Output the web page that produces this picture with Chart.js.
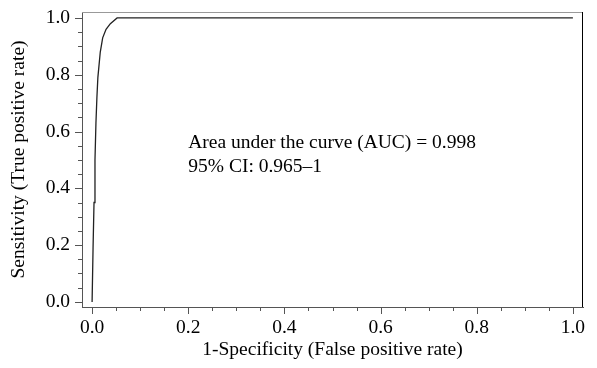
<!DOCTYPE html>
<html>
<head>
<meta charset="utf-8">
<script src="https://cdn.jsdelivr.net/npm/chart.js@4/dist/chart.umd.min.js"></script>
<style>
  html, body { margin: 0; padding: 0; background: #fff; }
  #wrap { width: 597px; height: 368px; }
</style>
</head>
<body>
<div id="wrap"><canvas id="roc"></canvas></div>
<script>
// ROC curve points
const fpr = [0, 0.002, 0.004, 0.006, 0.008, 0.010, 0.012, 0.017, 0.022, 0.029, 0.038, 0.052, 1.0];
const tpr = [0, 0.19, 0.35, 0.50, 0.63, 0.72, 0.79, 0.88, 0.93, 0.96, 0.98, 1.0, 1.0];

const majorTicks = [0, 0.2, 0.4, 0.6, 0.8, 1.0];
const minorStep = 0.05;

const noteLines = ["Area under the curve (AUC) = 0.998", "95% CI: 0.965\u20131"];
const noteAt = { x: 0.2, y: [0.56, 0.475] };

const serif = "'Liberation Serif', 'DejaVu Serif', serif";
const fontSize = 19.5;

function tickValues() {
  const out = [];
  for (let i = 0; i <= 20; i++) out.push({ value: +(i * minorStep).toFixed(2) });
  return out;
}
function isMajor(v) {
  return majorTicks.some(m => Math.abs(m - v) < 1e-6);
}

const frameAndTicks = {
  id: "frameAndTicks",
  afterDraw(chart) {
    const ctx = chart.ctx;
    const a = chart.chartArea;
    const xs = chart.scales.x, ys = chart.scales.y;
    ctx.save();
    ctx.lineWidth = 1;
    // top + right of the frame
    ctx.strokeStyle = "#999";
    ctx.beginPath();
    ctx.moveTo(a.left, a.top + 0.5);
    ctx.lineTo(a.right, a.top + 0.5);
    ctx.stroke();
    ctx.strokeStyle = "#000";
    ctx.beginPath();
    ctx.moveTo(a.right - 0.5, a.top);
    ctx.lineTo(a.right - 0.5, a.bottom);
    ctx.stroke();
    // tick marks, longer on the labelled ones
    ctx.strokeStyle = "#555";
    xs.ticks.forEach(t => {
      const px = Math.round(xs.getPixelForValue(t.value)) + 0.5;
      const len = isMajor(t.value) ? 7 : 4;
      ctx.beginPath();
      ctx.moveTo(px, a.bottom);
      ctx.lineTo(px, a.bottom + len);
      ctx.stroke();
    });
    ys.ticks.forEach(t => {
      const py = Math.round(ys.getPixelForValue(t.value)) + 0.5;
      const len = isMajor(t.value) ? 7 : 4;
      ctx.beginPath();
      ctx.moveTo(a.left, py);
      ctx.lineTo(a.left - len, py);
      ctx.stroke();
    });
    // annotation
    ctx.fillStyle = "#000";
    ctx.font = fontSize + "px " + serif;
    ctx.textBaseline = "middle";
    ctx.textAlign = "left";
    noteLines.forEach((s, i) => {
      ctx.fillText(s, xs.getPixelForValue(noteAt.x), ys.getPixelForValue(noteAt.y[i]));
    });
    ctx.restore();
  }
};

const rocData = fpr.map((x, i) => ({ x: x, y: tpr[i] }));

new Chart(document.getElementById("roc"), {
  type: "scatter",
  data: {
    datasets: [{
      data: rocData,
      showLine: true,
      borderColor: "#222",
      borderWidth: 1.3,
      pointRadius: 0,
      tension: 0
    }]
  },
  options: {
    responsive: true,
    maintainAspectRatio: false,
    animation: false,
    events: [],
    layout: { padding: { top: 12, right: 14, left: 0, bottom: 0 } },
    plugins: { legend: { display: false }, tooltip: { enabled: false } },
    scales: {
      x: {
        type: "linear",
        min: -0.021,
        max: 1.021,
        afterBuildTicks: s => { s.ticks = tickValues(); },
        afterFit: s => { s.height = 61; s.paddingLeft = 0; s.paddingRight = 0; },
        grid: { display: false, drawTicks: false },
        border: { display: true, color: "#555", width: 1 },
        ticks: {
          autoSkip: false,
          maxRotation: 0,
          padding: 9,
          color: "#000",
          font: { family: serif, size: fontSize },
          callback: v => isMajor(v) ? v.toFixed(1) : ""
        },
        title: {
          display: true,
          text: "1-Specificity (False positive rate)",
          color: "#000",
          font: { family: serif, size: fontSize },
          padding: { top: 0, bottom: 6 }
        }
      },
      y: {
        type: "linear",
        min: -0.018,
        max: 1.021,
        afterBuildTicks: s => { s.ticks = tickValues(); },
        afterFit: s => { s.width = 82; s.paddingTop = 0; s.paddingBottom = 0; },
        grid: { display: false, drawTicks: false },
        border: { display: true, color: "#555", width: 1 },
        ticks: {
          autoSkip: false,
          padding: 12,
          color: "#000",
          font: { family: serif, size: fontSize },
          callback: v => isMajor(v) ? v.toFixed(1) : ""
        },
        title: {
          display: true,
          text: "Sensitivity (True positive rate)",
          color: "#000",
          font: { family: serif, size: fontSize },
          padding: { top: 7, bottom: 0 }
        }
      }
    }
  },
  plugins: [frameAndTicks]
});
</script>
</body>
</html>
